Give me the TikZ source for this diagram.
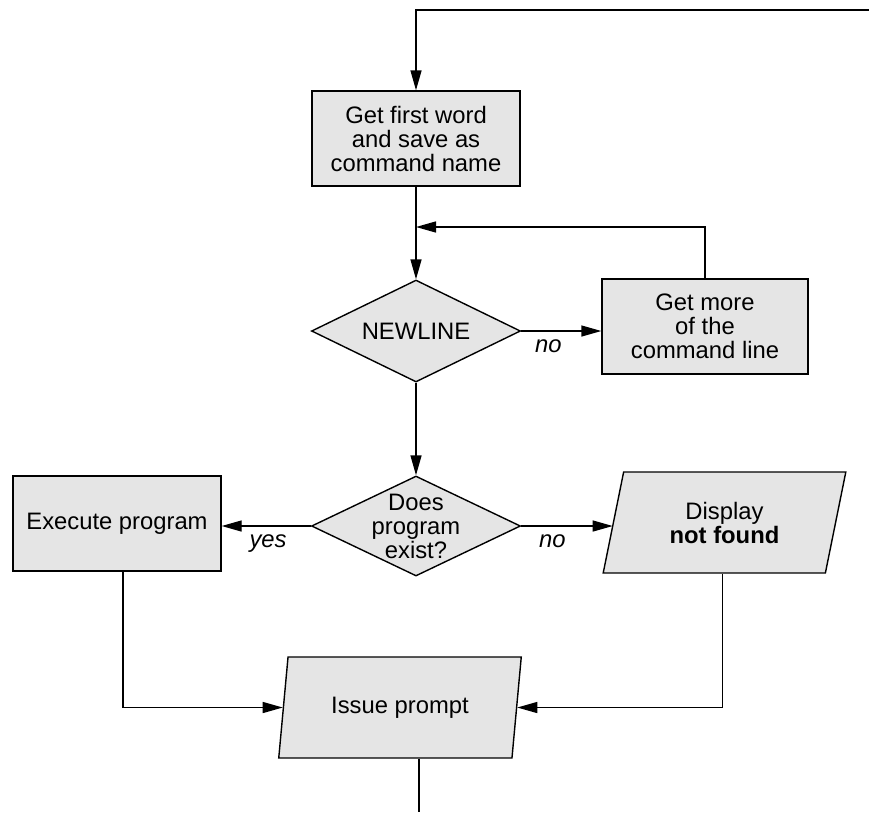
\documentclass[tikz,border=0pt]{standalone}
\usepackage{fontspec}
\setmainfont{Liberation Sans}
\usepackage{tikz}
\usetikzlibrary{positioning,arrows.meta,shapes.geometric}
\definecolor{boxfill}{gray}{0.9}

\begin{document}
\begin{tikzpicture}[x=1pt,y=-1pt,
    line width=1.4pt,
    every node/.style={font=\fontsize{23.8}{24}\selectfont},
    procbox/.style={draw,fill=boxfill,minimum width=208pt,minimum height=95pt,inner sep=0pt,align=center},
    decide/.style={draw,fill=boxfill,diamond,aspect=2,minimum width=209pt,minimum height=102pt,inner sep=-5pt,align=center},
    iobox/.style={draw,fill=boxfill,trapezium,trapezium left angle=75,trapezium right angle=105,trapezium stretches=true,minimum width=243pt,minimum height=101pt,inner sep=0pt,align=center},
    flow/.style={-{Triangle[length=20pt,width=11pt]}},
    answer/.style={font=\fontsize{23.8}{24}\selectfont\itshape}]
\useasboundingbox (0,0) rectangle (869,812);

% Steps
\node[procbox] (first) at (416,138.5) {Get first word\\and save as\\command name};
\node[decide] (newline) at (416,331) {NEWLINE};
\node[procbox,minimum width=206pt] (more) at (705,326.5) {Get more\\of the\\command line};
\node[decide,minimum height=100pt] (exist) at (416,526) {Does\\program\\exist?};
\node[procbox] (exec) at (117,523.5) {Execute program};
\node[iobox] (display) at (724.5,522.5) {Display\\\textbf{not found}};
\node[iobox] (issue) at (400,707.5) {Issue prompt};

% Loose ends
\coordinate (loopin) at (869,10);
\coordinate (rejoin) at (416,227);
\coordinate (loopout) at (419,812);

% Connectors
\draw[flow] (loopin) -| (first.north);
\draw[flow] (first) -- (newline);
\draw[flow] (more) |- (rejoin);
\draw[flow] (newline.east) -- (newline.east -| more.west) node[answer,below=5pt,pos=0.34] {no};
\draw[flow] (newline) -- (exist);
\draw[flow] (exist.west) -- (exist.west -| exec.east) node[answer,below=5pt,pos=0.48] {yes};
\draw[flow] (exist.east) -- (exist.east -| display.west) node[answer,below=5pt,pos=0.34] {no};
\draw[flow] ([xshift=6pt]exec.south) |- (issue.west);
\draw[flow] ([xshift=-2pt]display.south -| display.center) |- (issue.east);
\draw (loopout |- issue.south) -- (loopout);
\end{tikzpicture}
\end{document}
